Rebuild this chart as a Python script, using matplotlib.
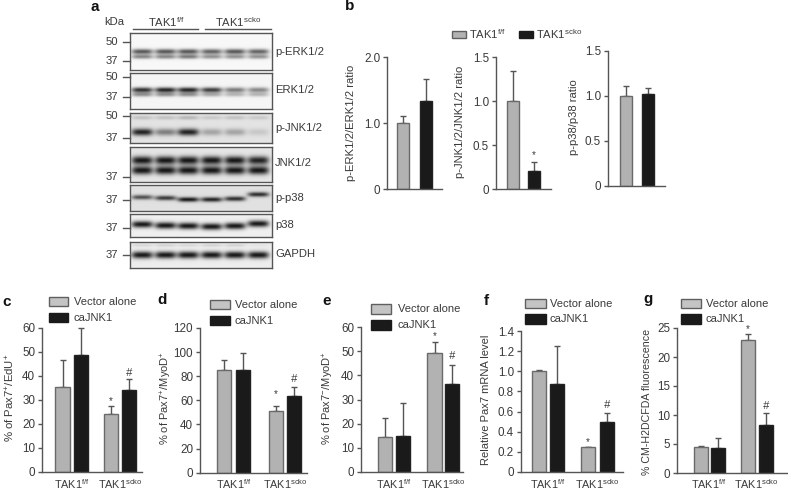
import numpy as np
import matplotlib
matplotlib.use('Agg')
import matplotlib.pyplot as plt
from matplotlib.patches import Rectangle

plt.rcParams['font.family'] = ['Liberation Sans', 'DejaVu Sans']
plt.rcParams['mathtext.default'] = 'regular'
plt.rcParams['font.size'] = 8

W, H = 788, 491
TXT = '#3a3a3a'
AXC = '#555555'
GREY = '#b2b2b2'
BLACK = '#1a1a1a'

FF = 'TAK1$^{f/f}$'
KO = 'TAK1$^{scko}$'

# ---- bar data ----
b1_vals = [1.0, 1.34]
b1_tops = [1.10, 1.66]
b2_vals = [1.0, 0.21]
b2_tops = [1.34, 0.31]
b3_vals = [1.0, 1.02]
b3_tops = [1.11, 1.09]
c_vals = [35.5, 48.7, 24.3, 34.3]
c_tops = [46.7, 60.0, 27.6, 38.8]
d_vals = [85.5, 85.0, 51.0, 63.5]
d_tops = [93.5, 99.0, 55.5, 71.0]
e_vals = [14.3, 14.7, 49.3, 36.5]
e_tops = [22.3, 28.6, 53.7, 44.2]
f_vals = [1.0, 0.87, 0.25, 0.50]
f_tops = [1.01, 1.25, 0.25, 0.59]
g_vals = [4.4, 4.3, 23.0, 8.3]
g_tops = [4.7, 6.1, 24.0, 10.4]

# ---- blot band darkness per lane ----
perk_upper = [0.65, 0.65, 0.65, 0.60, 0.65, 0.60]
perk_lower = [0.45, 0.45, 0.50, 0.40, 0.40, 0.40]
erk_upper = [0.80, 0.85, 0.85, 0.75, 0.50, 0.45]
erk_lower = [0.40, 0.40, 0.40, 0.30, 0.25, 0.25]
pjnk_main = [0.85, 0.45, 0.85, 0.28, 0.28, 0.12]
pjnk_faint = [0.15, 0.15, 0.20, 0.12, 0.15, 0.12]
jnk_upper = [0.90, 0.90, 0.90, 0.90, 0.90, 0.85]
jnk_lower = [0.90, 0.90, 0.90, 0.90, 0.90, 0.90]
pp38_main = [0.65, 0.75, 0.90, 0.85, 0.80, 0.80]
pp38_y = [0.47, 0.50, 0.56, 0.56, 0.53, 0.36]
p38_main = [0.9, 0.9, 0.9, 0.9, 0.9, 0.9]
p38_y = [0.45, 0.50, 0.52, 0.55, 0.52, 0.42]
gapdh_main = [0.9, 0.9, 0.9, 0.9, 0.9, 0.9]
gapdh_faint = [0.10, 0.12, 0.10, 0.12, 0.12, 0.04]


def px_axes(fig, x0, x1, ytop, ybot, **kw):
    return fig.add_axes([x0 / W, 1 - ybot / H, (x1 - x0) / W, (ybot - ytop) / H], **kw)


def draw_blot(fig, box, bg, bands):
    # bands: (darkness per lane, y fraction per lane or one y, thickness px)
    x0, x1, y0, y1 = box
    w, h = int(x1 - x0) * 2, int(y1 - y0) * 2
    xx, yy = np.meshgrid(np.linspace(0, 1, w), np.linspace(0, 1, h))
    img = np.full((h, w), float(bg))
    centres = [0.085, 0.25, 0.41, 0.575, 0.74, 0.905]
    for dark, ypos, thick in bands:
        ys = ypos if isinstance(ypos, list) else [ypos] * 6
        for cx, d, yc in zip(centres, dark, ys):
            dx = np.abs(xx - cx) / 0.075
            profile = np.exp(-dx ** 4)
            sy = thick / (y1 - y0)
            img -= d * bg * profile * np.exp(-((yy - yc) / sy) ** 2)
    ax = px_axes(fig, x0, x1, y0, y1)
    ax.imshow(np.clip(img, 0.08, 1), cmap='gray', vmin=0, vmax=1, aspect='auto',
              interpolation='bilinear')
    ax.set_xticks([])
    ax.set_yticks([])
    for s in ax.spines.values():
        s.set_color('#555555')
        s.set_linewidth(1.0)


def draw_bars(fig, rect, centres, width, vals, tops, ticks, ticklabels):
    x0, x1, ytop, y0 = rect
    ax = px_axes(fig, x0, x1, ytop, y0)
    ax.patch.set_alpha(0)
    ax.set_xlim(x0, x1)
    ax.set_ylim(ticks[0], ticks[-1])
    for i, (c, v, t) in enumerate(zip(centres, vals, tops)):
        col = GREY if i % 2 == 0 else BLACK
        ax.bar(c, v, width=width, color=col, edgecolor='#6a6a6a' if i % 2 == 0 else '#222222',
               linewidth=1.0, zorder=2)
        ax.errorbar(c, v, yerr=[[0], [t - v]], color='#555555', elinewidth=1.0, capsize=2,
                    capthick=1.0, clip_on=False, zorder=1)
    ax.set_xticks([])
    ax.set_yticks(ticks)
    ax.set_yticklabels(ticklabels, color=TXT, fontsize=8.4)
    ax.tick_params(axis='y', length=3, width=1.0, color=AXC, pad=2)
    for s in ['top', 'right']:
        ax.spines[s].set_visible(False)
    for s in ['left', 'bottom']:
        ax.spines[s].set_color(AXC)
        ax.spines[s].set_linewidth(1.0)
    return ax


fig = plt.figure(figsize=(W / 100, H / 100), dpi=100)
over = fig.add_axes([0, 0, 1, 1], zorder=10)
over.set_xlim(0, W)
over.set_ylim(H, 0)
over.axis('off')


def label(x, y, s, **kw):
    kw.setdefault('color', TXT)
    kw.setdefault('va', 'center')
    over.text(x, y, s, **kw)


# panel letters
for x, y, s in [(91, 7, 'a'), (345, 6, 'b'), (2, 302, 'c'), (157, 300, 'd'),
                (322, 301, 'e'), (484, 301, 'f'), (643, 299, 'g')]:
    label(x, y, s, fontsize=11, fontweight='bold', color='#111111')

# ---- panel a ----
boxes = [(130, 272, 33, 69.5), (130, 272, 73, 109), (130, 272, 113, 143), (130, 272, 147, 182),
         (130, 272, 185, 211), (130, 272, 214, 237), (130, 272, 242, 268)]
draw_blot(fig, boxes[0], 0.97, [(perk_upper, 0.53, 2.6), (perk_lower, 0.67, 2.2)])
draw_blot(fig, boxes[1], 0.96, [(erk_upper, 0.47, 2.6), (erk_lower, 0.60, 2.2)])
draw_blot(fig, boxes[2], 0.89, [(pjnk_main, 0.64, 3.6), (pjnk_faint, 0.15, 2)])
draw_blot(fig, boxes[3], 0.90, [(jnk_upper, 0.38, 4.2), (jnk_lower, 0.67, 4.2)])
draw_blot(fig, boxes[4], 0.88, [(pp38_main, pp38_y, 2.4)])
draw_blot(fig, boxes[5], 0.94, [(p38_main, p38_y, 3.4)])
draw_blot(fig, boxes[6], 0.93, [(gapdh_main, 0.50, 3.6), (gapdh_faint, 0.12, 1.4)])

blot_names = ['p-ERK1/2', 'ERK1/2', 'p-JNK1/2', 'JNK1/2', 'p-p38', 'p38', 'GAPDH']
blot_name_y = [52, 90, 128, 163, 198, 225, 254]
for name, y in zip(blot_names, blot_name_y):
    label(275, y, name, fontsize=8.1)

kda_marks = [(42, '50'), (61, '37'), (77, '50'), (97, '37'), (116, '50'), (138, '37'),
             (177, '37'), (200, '37'), (228, '37'), (255, '37')]
for y, s in kda_marks:
    label(118, y, s, ha='right', fontsize=8.1)
    over.plot([123, 130], [y, y], color=AXC, lw=1.0)

label(104, 22, 'kDa', fontsize=8.1)
label(166, 22, FF, ha='center', fontsize=8.1)
label(238, 22, KO, ha='center', fontsize=8.1)
over.plot([133, 198], [29, 29], color=AXC, lw=1.0)
over.plot([205, 271], [29, 29], color=AXC, lw=1.0)

# ---- panel b ----
draw_bars(fig, (387, 442, 57, 189), [403, 426], 12, b1_vals, b1_tops, [0, 1, 2], ['0', '1.0', '2.0'])
draw_bars(fig, (496, 551, 57, 189), [513, 534], 12, b2_vals, b2_tops, [0, 0.5, 1, 1.5], ['0', '0.5', '1.0', '1.5'])
draw_bars(fig, (608, 665, 50.7, 186), [626, 647.5], 12, b3_vals, b3_tops, [0, 0.5, 1, 1.5], ['0', '0.5', '1.0', '1.5'])
label(351, 123, 'p-ERK1/2/ERK1/2 ratio', rotation=90, ha='center', fontsize=8.1)
label(460, 122, 'p-JNK1/2/JNK1/2 ratio', rotation=90, ha='center', fontsize=8.1)
label(574, 117, 'p-p38/p38 ratio', rotation=90, ha='center', fontsize=8.1)
label(534, 155, '*', ha='center', fontsize=7)

over.add_patch(Rectangle((452, 31), 14, 7, fc=GREY, ec='#5f5f5f', lw=1.0))
over.add_patch(Rectangle((519, 31), 14, 7, fc=BLACK, ec=BLACK, lw=1.0))
label(469, 34.5, FF, fontsize=8.1)
label(536, 34.5, KO, fontsize=8.1)

# ---- panels c-g ----
panels = [
    ((42, 142, 328, 472), [62.5, 81, 111, 129], 14.5, c_vals, c_tops,
     [0, 10, 20, 30, 40, 50, 60], [str(v) for v in [0, 10, 20, 30, 40, 50, 60]]),
    ((200, 307, 328, 472.7), [224, 243, 276, 294], 14.5, d_vals, d_tops,
     [0, 20, 40, 60, 80, 100, 120], [str(v) for v in [0, 20, 40, 60, 80, 100, 120]]),
    ((361, 463, 327, 472), [385, 403, 434.5, 452], 14.5, e_vals, e_tops,
     [0, 10, 20, 30, 40, 50, 60], [str(v) for v in [0, 10, 20, 30, 40, 50, 60]]),
    ((521, 623, 331, 472), [539, 557, 588, 607], 14.5, f_vals, f_tops,
     [0, 0.2, 0.4, 0.6, 0.8, 1.0, 1.2, 1.4], ['0', '0.2', '0.4', '0.6', '0.8', '1.0', '1.2', '1.4']),
    ((677, 788, 328, 473), [701, 717.5, 748, 765.5], 14, g_vals, g_tops,
     [0, 5, 10, 15, 20, 25], ['0', '5', '10', '15', '20', '25']),
]
for p in panels:
    draw_bars(fig, *p)
    cs = p[1]
    y = 484
    label((cs[0] + cs[1]) / 2, y, FF, ha='center', fontsize=7.8)
    label((cs[2] + cs[3]) / 2, y, KO, ha='center', fontsize=7.8)

ylabels = [(10, 398, '% of Pax7$^{+}$/EdU$^{+}$', 8.2), (166, 398, '% of Pax7$^{+}$/MyoD$^{+}$', 8.0),
           (328, 398, '% of Pax7$^{-}$/MyoD$^{+}$', 8.0), (486, 400, 'Relative Pax7 mRNA level', 8.0),
           (647, 402, '% CM-H2DCFDA fluorescence', 7.7)]
for x, y, s, fs in ylabels:
    label(x, y, s, rotation=90, ha='center', fontsize=fs)

marks = [(111, 401, '*'), (129, 373, '#'), (276, 394, '*'), (294, 379, '#'),
         (434.5, 336, '*'), (452, 356, '#'), (588, 442, '*'), (607, 405, '#'),
         (748, 329, '*'), (765.5, 406, '#')]
for x, y, s in marks:
    label(x, y, s, ha='center', fontsize=8 if s == '#' else 7, fontstyle='italic' if s == '#' else 'normal')

legends = [(49, 68, 297, 306, 313, 322, 74), (210, 230, 300, 309, 316, 325, 235),
           (371, 391, 304, 314, 320, 330, 398), (525, 546, 299, 308, 314, 324, 550),
           (681, 701, 299, 308, 314, 324, 706)]
for x0, x1, a0, a1, b0, b1, tx in legends:
    over.add_patch(Rectangle((x0, a0), x1 - x0, a1 - a0, fc='#c4c4c4', ec='#5f5f5f', lw=1.0))
    over.add_patch(Rectangle((x0, b0), x1 - x0, b1 - b0, fc=BLACK, ec=BLACK, lw=1.0))
    label(tx, (a0 + a1) / 2 + 0.5, 'Vector alone', fontsize=8.0)
    label(tx, (b0 + b1) / 2 + 0.5, 'caJNK1', fontsize=8.0)

fig.savefig('out.png', dpi=100)
